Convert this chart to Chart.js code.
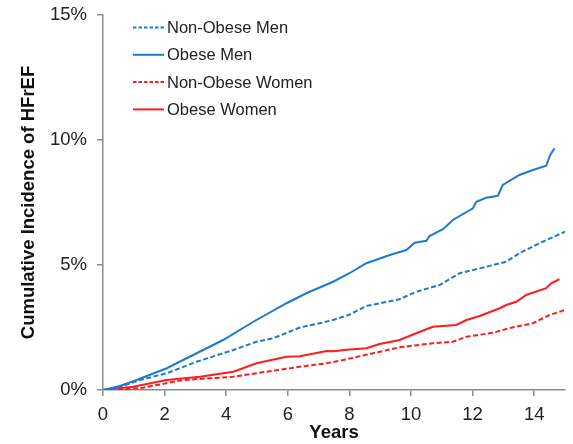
<!DOCTYPE html>
<html>
<head>
<meta charset="utf-8">
<script src="https://cdn.jsdelivr.net/npm/chart.js@4"></script>
<style>
  html, body { margin: 0; padding: 0; background: #fff; }
  #wrap { width: 573px; height: 444px; }
</style>
</head>
<body>
<div id="wrap"><canvas id="hfChart" width="573" height="444"></canvas></div>
<script>
// Jahre und kumulative Inzidenz (%) je Gruppe
const obeseMenYears = [0, 0.55, 1.09, 2.07, 3.04, 3.9, 4.88, 5.96, 6.6, 7.47, 8.0, 8.55, 9.31, 9.85, 10.12, 10.5, 10.6, 11.04, 11.36, 12.01, 12.12, 12.44, 12.82, 12.98, 13.52, 13.96, 14.39, 14.52, 14.66];
const obeseMen = [0, 0.16, 0.4, 0.87, 1.47, 2.0, 2.73, 3.47, 3.87, 4.33, 4.67, 5.07, 5.4, 5.6, 5.89, 5.97, 6.16, 6.43, 6.8, 7.27, 7.53, 7.69, 7.77, 8.2, 8.6, 8.8, 8.97, 9.4, 9.67];

const nonObeseMenYears = [0, 0.44, 1.2, 2.07, 3.04, 4.23, 4.98, 5.53, 6.39, 7.04, 7.47, 8.01, 8.55, 8.98, 9.63, 10.17, 10.93, 11.58, 12.44, 13.09, 13.52, 14.17, 15.0];
const nonObeseMen = [0, 0.07, 0.4, 0.67, 1.13, 1.6, 1.93, 2.07, 2.5, 2.67, 2.8, 3.02, 3.36, 3.47, 3.63, 3.93, 4.2, 4.67, 4.93, 5.13, 5.47, 5.87, 6.33];

const obeseWomenYears = [0, 0.98, 2.07, 3.15, 4.23, 4.98, 5.96, 6.39, 7.26, 7.47, 8.0, 8.55, 8.98, 9.63, 10.17, 10.71, 11.47, 11.8, 12.23, 12.88, 13.09, 13.42, 13.74, 14.39, 14.55, 14.82];
const obeseWomen = [0, 0.13, 0.4, 0.53, 0.73, 1.07, 1.33, 1.35, 1.56, 1.55, 1.62, 1.67, 1.84, 2.0, 2.27, 2.53, 2.6, 2.8, 2.96, 3.27, 3.4, 3.53, 3.8, 4.07, 4.27, 4.43];

const nonObeseWomenYears = [0, 1.2, 2.6, 4.23, 5.31, 6.39, 7.26, 7.8, 8.77, 9.63, 10.71, 11.36, 11.8, 12.66, 13.31, 13.96, 14.5, 15.0];
const nonObeseWomen = [0, 0.07, 0.4, 0.53, 0.73, 0.93, 1.07, 1.2, 1.47, 1.71, 1.87, 1.93, 2.13, 2.29, 2.51, 2.67, 3.0, 3.2];

const seriesLabels = ['Non-Obese Men', 'Obese Men', 'Non-Obese Women', 'Obese Women'];
const yTicks = [0, 5, 10, 15];

const BLUE = 'rgb(30,122,205)';
const RED = 'rgb(255,28,28)';
const FONT = '"Liberation Sans", Arial, sans-serif';

function toPoints(xs, ys) {
  return xs.map((x, i) => ({ x: x, y: ys[i] }));
}

// Legende innerhalb des Plotbereichs zeichnen
const innerLegend = {
  id: 'innerLegend',
  afterDraw(chart) {
    const ctx = chart.ctx;
    const area = chart.chartArea;
    ctx.save();
    ctx.font = '16.5px ' + FONT;
    ctx.textBaseline = 'middle';
    ctx.fillStyle = '#222';
    chart.data.datasets.forEach((ds, i) => {
      const y = area.top + 12.5 + i * 27.3;
      const x0 = area.left + 30;
      ctx.beginPath();
      ctx.strokeStyle = ds.borderColor;
      ctx.lineWidth = 2;
      ctx.setLineDash(ds.borderDash ? [3.5, 2] : []);
      ctx.moveTo(x0, y);
      ctx.lineTo(x0 + 31, y);
      ctx.stroke();
      ctx.setLineDash([]);
      ctx.fillText(ds.label, x0 + 34, y + 1);
    });
    ctx.restore();
  }
};

const ctx = document.getElementById('hfChart').getContext('2d');
new Chart(ctx, {
  type: 'line',
  data: {
    datasets: [
      { label: seriesLabels[0], data: toPoints(nonObeseMenYears, nonObeseMen), borderColor: BLUE, borderDash: [5, 2.5] },
      { label: seriesLabels[1], data: toPoints(obeseMenYears, obeseMen), borderColor: BLUE },
      { label: seriesLabels[2], data: toPoints(nonObeseWomenYears, nonObeseWomen), borderColor: RED, borderDash: [5, 2.5] },
      { label: seriesLabels[3], data: toPoints(obeseWomenYears, obeseWomen), borderColor: RED }
    ].map(ds => Object.assign(ds, { borderWidth: 2, pointRadius: 0, fill: false, tension: 0 }))
  },
  options: {
    responsive: false,
    animation: false,
    devicePixelRatio: 1,
    layout: { padding: { left: 0, right: 8, top: 15, bottom: 0 } },
    plugins: {
      legend: { display: false },
      tooltip: { enabled: false }
    },
    scales: {
      x: {
        type: 'linear',
        min: 0,
        max: 15,
        afterFit: s => { s.height = 54; s.paddingRight = 0; s.paddingLeft = 0; },
        border: { color: '#8c8c8c', width: 1.5 },
        grid: { display: true, drawOnChartArea: false, tickLength: 6, color: '#8c8c8c', lineWidth: 1.5 },
        ticks: {
          stepSize: 2,
          includeBounds: false,
          color: '#222',
          padding: 8,
          font: { family: FONT, size: 18.5 }
        },
        title: {
          display: true,
          text: 'Years',
          color: '#111',
          padding: { top: 0, bottom: 0 },
          font: { family: FONT, size: 18.5, weight: 'bold' }
        }
      },
      y: {
        min: 0,
        max: 15,
        afterFit: s => { s.width = 103; s.paddingTop = 0; s.paddingBottom = 0; },
        afterBuildTicks: s => { s.ticks = yTicks.map(v => ({ value: v })); },
        border: { color: '#8c8c8c', width: 1.5 },
        grid: { display: true, drawOnChartArea: false, tickLength: 6, color: '#8c8c8c', lineWidth: 1.5 },
        ticks: {
          color: '#222',
          padding: 10,
          font: { family: FONT, size: 18.5 },
          callback: v => v + '%'
        },
        title: {
          display: true,
          text: 'Cumulative Incidence of HFrEF',
          color: '#111',
          padding: { top: 18, bottom: 0 },
          font: { family: FONT, size: 18.5, weight: 'bold' }
        }
      }
    }
  },
  plugins: [innerLegend]
});
</script>
</body>
</html>
